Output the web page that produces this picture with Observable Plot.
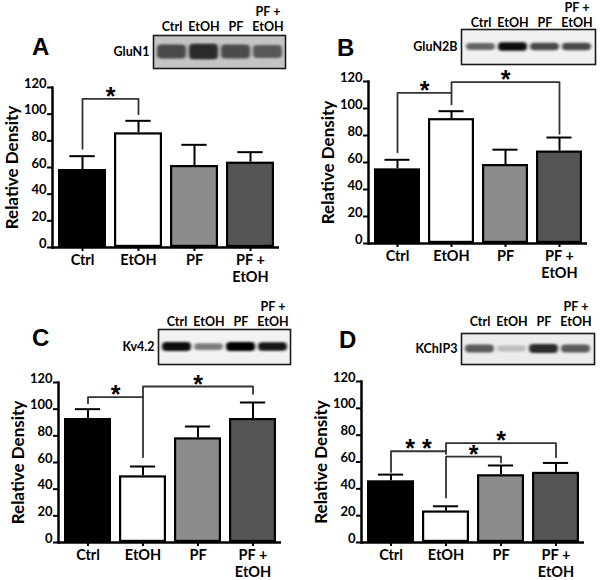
<!DOCTYPE html>
<html><head><meta charset="utf-8">
<script src="https://cdn.jsdelivr.net/npm/d3@7"></script>
<script src="https://cdn.jsdelivr.net/npm/@observablehq/plot@0.6"></script>
<style>
body{margin:0;background:#fff;}
#fig{position:relative;width:600px;height:580px;overflow:hidden;background:#fff;}
.q{position:absolute;width:300px;height:290px;}
.q svg{position:absolute;left:0;top:0;}
.letter{position:absolute;font-family:"Liberation Sans",Arial,sans-serif;font-weight:bold;font-size:24px;line-height:24px;color:#000;}
</style></head><body><div id="fig"></div><script>
// ---------- data ----------
const groups = ["Ctrl", "EtOH", "PF", "PF +\nEtOH"];
const barFills = ["#000000", "#ffffff", "#8c8c8c", "#555555"];
const yTicks = [0, 20, 40, 60, 80, 100, 120];

// A: GluN1
const meanA = [58.5, 86, 61.5, 64];
const semA = [10, 9, 15.5, 7.5];
const blotA = [0.75, 0.92, 0.72, 0.65];
const bracketsA = [
  {from: "Ctrl", to: "EtOH", top: 111.5, left: 74, right: 100, label: "*"}
];
// B: GluN2B
const meanB = [55.3, 92.5, 58.5, 68.5];
const semB = [6.7, 5.5, 11, 10];
const blotB = [0.6, 1, 0.72, 0.72];
const bracketsB = [
  {from: "Ctrl", to: "EtOH", top: 111.6, left: 67.6, right: 103, label: "*"},
  {from: "EtOH", to: "PF +\nEtOH", top: 119.5, left: 111.6, right: 81.3, label: "*"}
];
// C: Kv4.2
const meanC = [93, 50, 78.5, 93];
const semC = [7, 7, 8.5, 12];
const blotC = [0.95, 0.5, 1, 0.92];
const bracketsC = [
  {from: "Ctrl", to: "EtOH", top: 109, left: 104.5, right: 64, label: "*"},
  {from: "EtOH", to: "PF +\nEtOH", top: 117, left: 109, right: 111.5, label: "*"}
];
// D: KChIP3
const meanD = [46, 23.5, 50.5, 52.3];
const semD = [4.6, 3.5, 6.9, 7];
const blotD = [0.68, 0.22, 0.9, 0.68];
const bracketsD = [
  {from: "Ctrl", to: "EtOH", top: 68, left: 52.5, right: 66, label: "* *"},
  {from: "EtOH", to: "PF", top: 64, left: 33.5, right: 59.7, label: "*"},
  {from: "EtOH", to: "PF +\nEtOH", top: 74, left: 68, right: 63.5, label: "*"}
];

const panels = [
  {key: "A", protein: "GluN1", mean: meanA, sem: semA, blot: blotA, brackets: bracketsA},
  {key: "B", protein: "GluN2B", mean: meanB, sem: semB, blot: blotB, brackets: bracketsB},
  {key: "C", protein: "Kv4.2", mean: meanC, sem: semC, blot: blotC, brackets: bracketsC},
  {key: "D", protein: "KChIP3", mean: meanD, sem: semD, blot: blotD, brackets: bracketsD}
];

// ---------- layout (positions/styles) ----------
const layout = {
  A: {left: 0, top: 0, axisX: 52, xEnd: 279, y120: 87, y0: 247, lx: 32, lcy: 47,
      box: {x0: 153, x1: 285, y0: 35, y1: 68}, lanePad: 5, bandPx: 16, bg: "#c4c4c4", ink: "#1e1e1e"},
  B: {left: 300, top: 0, axisX: 68, xEnd: 287, y120: 81, y0: 243, lx: 37, lcy: 47.5,
      box: {x0: 161, x1: 295, y0: 29, y1: 64}, lanePad: 3, bandPx: 8.5, bg: "#f0f0f0", ink: "#0a0a0a"},
  C: {left: 0, top: 290, axisX: 58, xEnd: 281, y120: 92, y0: 252, lx: 32, lcy: 47.5,
      box: {x0: 158, x1: 290, y0: 39, y1: 74}, lanePad: 4, bandPx: 9, bg: "#f2f2f2", ink: "#050505"},
  D: {left: 300, top: 290, axisX: 61, xEnd: 284, y120: 91, y0: 252, lx: 39, lcy: 49.5,
      box: {x0: 161, x1: 294, y0: 43, y1: 74}, lanePad: 8, bandPx: 9.5, bg: "#ececec", ink: "#151515"}
};

const fig = document.getElementById("fig");
const PAD_IN = 0.15, PAD_OUT = 0.1;

function barChart(P, L) {
  const data = groups.map((g, i) => ({group: g, mean: P.mean[i], sem: P.sem[i]}));
  const bs = d3.scaleBand().domain(groups).range([L.axisX, L.xEnd]).paddingInner(PAD_IN).paddingOuter(PAD_OUT);
  const step = bs.step(), bw = bs.bandwidth();
  const capInset = Math.max(0, (bw - 25) / 2);
  const marks = [
    Plot.barY(data, {x: "group", y: "mean", fill: "group", stroke: "#000", strokeWidth: 2.2, inset: 1.1}),
    Plot.ruleX(data, {x: "group", y1: "mean", y2: d => d.mean + d.sem, stroke: "#000", strokeWidth: 2}),
    Plot.tickY(data, {x: "group", y: d => d.mean + d.sem, stroke: "#000", strokeWidth: 2, insetLeft: capInset, insetRight: capInset}),
    Plot.ruleY([0], {stroke: "#000", strokeWidth: 2.5}),
    Plot.frame({anchor: "left", stroke: "#000", strokeWidth: 2.5}),
    Plot.axisY({ticks: yTicks, tickSize: 5, tickPadding: 1, fontSize: 13, strokeWidth: 2, lineAnchor: "bottom", label: null}),
    Plot.axisX({tickSize: 4, tickPadding: 2, fontSize: 14.5, strokeWidth: 2, lineHeight: 1.16, label: null}),
    Plot.text(["Relative Density"], {frameAnchor: "left", textAnchor: "middle", lineAnchor: "middle", rotate: -90, dx: -40, fontSize: 17})
  ];
  for (const b of P.brackets) {
    const pts = [
      {x: b.from, y: b.left}, {x: b.from, y: b.top},
      {x: b.to, y: b.top}, {x: b.to, y: b.right}
    ];
    marks.push(Plot.line(pts, {x: "x", y: "y", stroke: "#333", strokeWidth: 1.8}));
    const span = groups.indexOf(b.to) - groups.indexOf(b.from);
    marks.push(Plot.text([b], {x: "from", y: "top", text: "label", dx: span * step / 2, dy: 6,
      lineAnchor: "bottom", fontSize: 25, fontWeight: "bold", fontFamily: "Liberation Sans"}));
  }
  return Plot.plot({
    width: 300, height: 290,
    marginLeft: L.axisX, marginRight: 300 - L.xEnd, marginTop: L.y120, marginBottom: 290 - L.y0,
    x: {domain: groups, paddingInner: PAD_IN, paddingOuter: PAD_OUT, label: null},
    y: {domain: [0, 120], label: null},
    color: {domain: groups, range: barFills},
    style: {fontFamily: "Lato", fontWeight: "bold", background: "transparent", color: "#000"},
    marks
  });
}

function blotChart(P, L) {
  const B = L.box;
  const H = B.y1 - B.y0;
  const lanes = groups.map((g, i) => ({lane: g, v: P.blot[i]}));
  const height = B.y1 + 4;
  const ink = d3.interpolateRgb(L.bg, L.ink);
  const svg = Plot.plot({
    width: 300, height,
    marginLeft: B.x0, marginRight: 300 - B.x1, marginTop: B.y0, marginBottom: height - B.y1,
    x: {domain: groups, padding: 0.1, label: null},
    y: {domain: [0, H], label: null, axis: null},
    style: {fontFamily: "Lato", fontWeight: "bold", background: "transparent", color: "#000"},
    marks: [
      Plot.frame({fill: L.bg, stroke: "#1a1a1a", strokeWidth: 1.6}),
      Plot.barY(lanes, {x: "lane",
        y1: d => H / 2 - L.bandPx * (0.5 + 0.5 * d.v) / 2,
        y2: d => H / 2 + L.bandPx * (0.5 + 0.5 * d.v) / 2,
        fill: d => ink(d.v), rx: 4}),
      Plot.axisX({anchor: "top", tickSize: 0, tickPadding: L.lanePad, fontSize: 12.5, lineHeight: 1.2, label: null}),
      Plot.text([P.protein], {frameAnchor: "left", textAnchor: "end", dx: -4, fontSize: 12.5})
    ]
  });
  const id = "blur" + P.key;
  const defs = d3.select(svg).insert("defs", ":first-child");
  defs.append("filter").attr("id", id).attr("x", "-30%").attr("y", "-150%").attr("width", "160%").attr("height", "400%")
    .append("feGaussianBlur").attr("stdDeviation", "1.8 1.3");
  d3.select(svg).selectAll('g[aria-label="bar"]').attr("filter", `url(#${id})`);
  return svg;
}

for (const P of panels) {
  const L = layout[P.key];
  const q = document.createElement("div");
  q.className = "q";
  q.style.left = L.left + "px";
  q.style.top = L.top + "px";
  q.appendChild(barChart(P, L));
  q.appendChild(blotChart(P, L));
  const letter = document.createElement("div");
  letter.className = "letter";
  letter.textContent = P.key;
  letter.style.left = L.lx + "px";
  letter.style.top = (L.lcy - 11.7) + "px";
  q.appendChild(letter);
  fig.appendChild(q);
}
</script></body></html>
